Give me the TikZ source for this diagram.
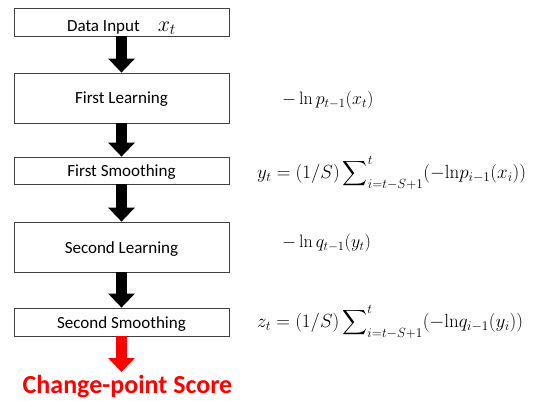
\documentclass[tikz,border=0pt]{standalone}
\usepackage{fix-cm}
\usepackage{exscale}
\usepackage[no-math]{fontspec}
\setmainfont{Carlito}
\usetikzlibrary{arrows.meta}
\begin{document}
\begin{tikzpicture}[x=1pt,y=-1pt,
  stagebox/.style={draw=black!75, line width=0.8pt, fill=white,
    minimum width=215pt, inner sep=0pt, text height=12pt, text depth=0pt,
    font=\fontsize{17}{20}\selectfont},
  flow/.style={line width=11pt, -{Triangle[width=26pt,length=14pt]}},
  formula/.style={anchor=west, inner sep=0pt, font=\fontsize{18}{21}\selectfont},
  sumformula/.style={formula, font=\fontsize{19}{22}\selectfont}]
\useasboundingbox (0,0) rectangle (535,401);

% processing stages
\node[stagebox, minimum height=28pt, text height=19pt] (input)  at (121.5,22)
  {Data Input\hspace{18pt}{\fontsize{22}{24}\selectfont$x_t$}};
\node[stagebox, minimum height=50pt] (learn1) at (121.5,98)  {First Learning};
\node[stagebox, minimum height=27pt] (smooth1) at (121.5,170.5) {First Smoothing};
\node[stagebox, minimum height=50pt] (learn2) at (121.5,247) {Second Learning};
\node[stagebox, minimum height=28pt] (smooth2) at (121.5,322) {Second Smoothing};

% output label
\node[anchor=base, inner sep=0pt, text=red, font=\fontsize{26}{29}\selectfont\bfseries]
  (score) at (127.5,393) {Change-point Score};
\coordinate (scoretip) at (121.5,372);

% block arrows between the stages
\draw[flow] (input.south) -- (learn1.north);
\draw[flow] (learn1.south) -- (smooth1.north);
\draw[flow] (smooth1.south) -- (learn2.north);
\draw[flow] (learn2.south) -- (smooth2.north);
\draw[flow, red] (smooth2.south) -- (scoretip);

% scores computed at each stage
\node[formula] (f1) at (282,100) {$-\ln p_{t-1}(x_t)$};
\node[sumformula] (f2) at (257,173)
  {$y_t=(1/S)\displaystyle\sum\nolimits_{i=t-S+1}^{t}(-\mathrm{ln}p_{i-1}(x_i))$};
\node[formula] (f3) at (282,243) {$-\ln q_{t-1}(y_t)$};
\node[sumformula] (f4) at (257,322)
  {$z_t=(1/S)\displaystyle\sum\nolimits_{i=t-S+1}^{t}(-\mathrm{ln}q_{i-1}(y_i))$};
\end{tikzpicture}
\end{document}
